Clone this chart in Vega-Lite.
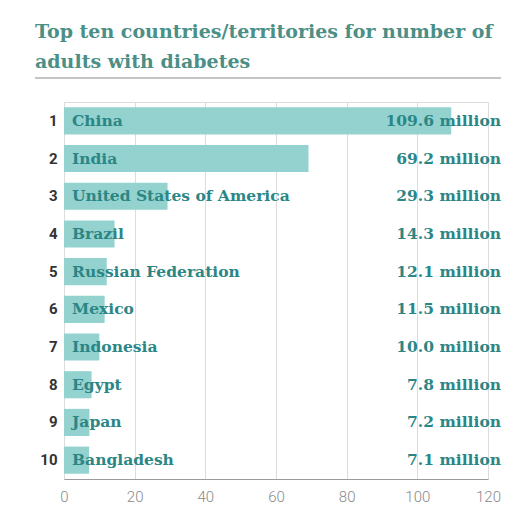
{
  "$schema": "https://vega.github.io/schema/vega-lite/v6.json",
  "width": 424,
  "height": 377,
  "autosize": {"type": "none"},
  "padding": {"left": 64, "top": 102, "right": 35, "bottom": 37},
  "background": "white",
  "title": {
    "text": ["Top ten countries/territories for number of", "adults with diabetes"],
    "anchor": "start",
    "frame": "group",
    "dx": -29,
    "offset": 6,
    "font": "DejaVu Serif",
    "fontSize": 19,
    "fontWeight": "bold",
    "lineHeight": 30,
    "color": "#4b8f86"
  },
  "data": {
    "values": [
      {"rank": 1, "country": "China", "value": 109.6, "label": "109.6 million"},
      {"rank": 2, "country": "India", "value": 69.2, "label": "69.2 million"},
      {"rank": 3, "country": "United States of America", "value": 29.3, "label": "29.3 million"},
      {"rank": 4, "country": "Brazil", "value": 14.3, "label": "14.3 million"},
      {"rank": 5, "country": "Russian Federation", "value": 12.1, "label": "12.1 million"},
      {"rank": 6, "country": "Mexico", "value": 11.5, "label": "11.5 million"},
      {"rank": 7, "country": "Indonesia", "value": 10.0, "label": "10.0 million"},
      {"rank": 8, "country": "Egypt", "value": 7.8, "label": "7.8 million"},
      {"rank": 9, "country": "Japan", "value": 7.2, "label": "7.2 million"},
      {"rank": 10, "country": "Bangladesh", "value": 7.1, "label": "7.1 million"}
    ]
  },
  "encoding": {
    "y": {
      "field": "rank",
      "type": "ordinal",
      "scale": {"paddingInner": 0.28, "paddingOuter": 0.14},
      "axis": {
        "title": null,
        "ticks": false,
        "domain": false,
        "labelPadding": 7,
        "labelFont": "Roboto",
        "labelFontSize": 15,
        "labelFontWeight": "bold",
        "labelColor": "#333333"
      }
    }
  },
  "layer": [
    {
      "mark": {"type": "bar", "color": "#94d2cf"},
      "encoding": {
        "x": {
          "field": "value",
          "type": "quantitative",
          "scale": {"domain": [0, 120]},
          "axis": {
            "title": null,
            "values": [0, 20, 40, 60, 80, 100, 120],
            "ticks": false,
            "labelPadding": 10,
            "labelFont": "Roboto",
            "labelFontWeight": 300,
            "labelFontSize": 15,
            "labelColor": "#8a8a8a",
            "domainColor": "#9a9a9a",
            "gridColor": "#dcdcdc",
            "labelFlush": false
          }
        }
      }
    },
    {
      "mark": {
        "type": "text",
        "align": "left",
        "dx": 8,
        "font": "DejaVu Serif",
        "fontSize": 15.5,
        "fontWeight": "bold",
        "color": "#2b8686"
      },
      "encoding": {
        "x": {"datum": 0},
        "text": {"field": "country"}
      }
    },
    {
      "mark": {
        "type": "text",
        "align": "right",
        "dx": 13,
        "font": "DejaVu Serif",
        "fontSize": 15.5,
        "fontWeight": "bold",
        "color": "#2b8686"
      },
      "encoding": {
        "x": {"datum": 120},
        "text": {"field": "label"}
      }
    },
    {
      "data": {"values": [{"from": -8.2, "to": 123.7}]},
      "mark": {"type": "rule", "color": "#8a8a8a", "strokeWidth": 1},
      "encoding": {
        "x": {"field": "from", "type": "quantitative"},
        "x2": {"field": "to"},
        "y": {"value": -24}
      }
    }
  ]
}
